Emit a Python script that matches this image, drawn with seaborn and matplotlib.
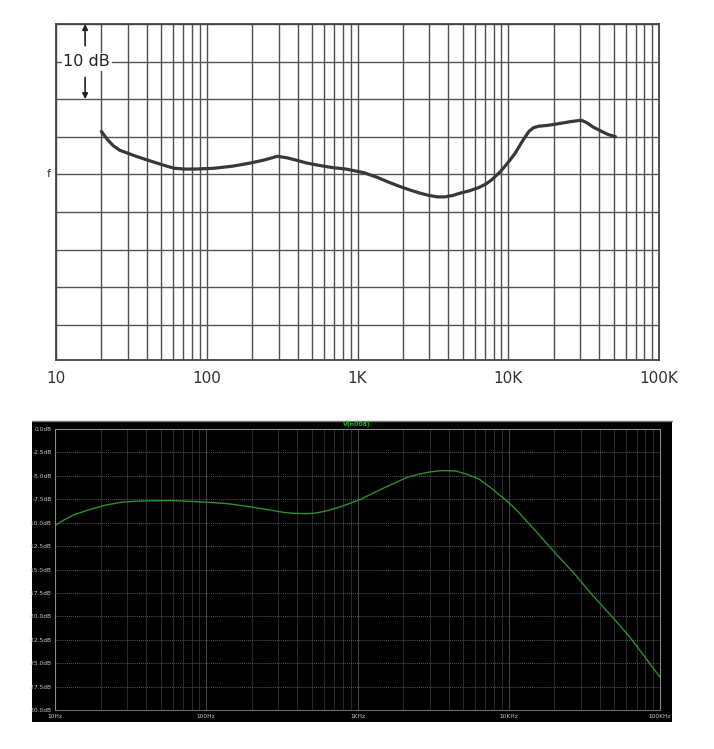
import numpy as np
import pandas as pd
import matplotlib
matplotlib.use("Agg")
import matplotlib.pyplot as plt
import seaborn as sns
from matplotlib.ticker import LogLocator, NullFormatter, FixedLocator, FixedFormatter
from matplotlib.patches import Rectangle
from matplotlib.lines import Line2D

# ---------------- data ----------------
# top: hand-drawn response (dB relative to top grid line, 5 dB per division)
top_freq = [20, 22, 24, 26.5, 30, 34, 39, 45, 52, 61, 72, 84, 111, 150, 194, 240,
            294, 340, 390, 460, 552, 680, 840, 1110, 1350, 1590, 1900, 2240, 2600,
            2960, 3400, 3800, 4300, 4800, 5500, 6300, 7100, 7800, 8900, 10000,
            11100, 12400, 13700, 14700, 15900, 18000, 21000, 25700, 30500, 33000,
            36500, 41700, 46000, 51500]
top_db = [-14.3, -15.4, -16.2, -16.8, -17.2, -17.6, -18.0, -18.4, -18.8, -19.2,
          -19.3, -19.3, -19.2, -18.9, -18.5, -18.1, -17.6, -17.8, -18.1, -18.5,
          -18.8, -19.1, -19.3, -19.8, -20.4, -21.0, -21.6, -22.1, -22.5, -22.8,
          -23.0, -23.0, -22.8, -22.5, -22.2, -21.8, -21.3, -20.7, -19.6, -18.4,
          -17.2, -15.6, -14.3, -13.8, -13.6, -13.5, -13.3, -13.0, -12.8, -13.1,
          -13.7, -14.3, -14.7, -15.0]
top_tick_vals = [10, 100, 1000, 10000, 100000]
top_tick_labels = ["10", "100", "1K", "10K", "100K"]

# bottom: simulated response V(n008)
sim_freq = [10, 11.5, 13.2, 15.5, 18.7, 22, 28, 35, 46, 60, 80, 105, 140, 175, 212,
            265, 323, 380, 440, 500, 560, 640, 740, 870, 1050, 1250, 1490, 1750,
            2100, 2500, 2970, 3300, 3600, 4000, 4500, 5200, 6300, 7500, 9600,
            11500, 13600, 16500, 20700, 27000, 36000, 48000, 63000, 80000, 100000]
sim_db = [-10.3, -9.7, -9.2, -8.8, -8.4, -8.1, -7.8, -7.7, -7.66, -7.65, -7.73,
          -7.83, -7.98, -8.2, -8.4, -8.65, -8.9, -9.0, -9.04, -9.02, -8.9, -8.7,
          -8.4, -8.0, -7.5, -6.9, -6.3, -5.8, -5.2, -4.85, -4.6, -4.5, -4.45,
          -4.45, -4.5, -4.8, -5.3, -6.2, -7.6, -8.8, -10.1, -11.6, -13.4, -15.4,
          -17.8, -20.0, -22.2, -24.4, -26.5]
sim_ytick_vals = [0, -2.5, -5, -7.5, -10, -12.5, -15, -17.5, -20, -22.5, -25, -27.5, -30]
sim_ytick_labels = ["0.0dB", "-2.5dB", "-5.0dB", "-7.5dB", "-10.0dB", "-12.5dB",
                    "-15.0dB", "-17.5dB", "-20.0dB", "-22.5dB", "-25.0dB",
                    "-27.5dB", "-30.0dB"]
sim_xtick_labels = ["10Hz", "100Hz", "1KHz", "10KHz", "100KHz"]
sim_title = "V(n008)"

top_df = pd.DataFrame({"freq": top_freq, "db": top_db})
sim_df = pd.DataFrame({"freq": sim_freq, "db": sim_db})

# ---------------- figure ----------------
sns.set_style("white")
plt.rcParams["font.family"] = ["DejaVu Sans"]
W, H = 714, 749
fig = plt.figure(figsize=(W / 100, H / 100), dpi=100)
fig.patch.set_facecolor("white")

def fx(px):
    return px / W

def fy(py):
    return 1 - py / H

# ---------- top chart ----------
ax1 = fig.add_axes([fx(56), fy(360), fx(659) - fx(56), fy(24) - fy(360)])
ax1.set_facecolor("white")
ax1.set_xscale("log")
ax1.set_xlim(10, 100000)
ax1.set_ylim(-44.7, 0)
ax1.xaxis.set_major_locator(FixedLocator(top_tick_vals))
ax1.xaxis.set_major_formatter(FixedFormatter(top_tick_labels))
ax1.xaxis.set_minor_locator(LogLocator(base=10, subs=np.arange(2, 10), numticks=20))
ax1.xaxis.set_minor_formatter(NullFormatter())
ax1.set_yticks(np.arange(0, -45, -5))
ax1.set_yticklabels([])
ax1.grid(True, which="both", axis="x", color="#505050", lw=1.0)
ax1.grid(True, which="major", axis="y", color="#555555", lw=1.0)
ax1.tick_params(axis="both", which="both", length=0)
ax1.tick_params(axis="x", which="major", pad=8, labelsize=11, labelcolor="#333333")
for s in ax1.spines.values():
    s.set_color("#444444")
    s.set_linewidth(1.3)

sns.lineplot(data=top_df, x="freq", y="db", ax=ax1, color="#383838", lw=2.3,
             legend=False)
ax1.set_xlabel("")
ax1.set_ylabel("")

# "10 dB" scale marker
ax1.text(16.0, -5, "10 dB", fontsize=11.5, color="#222222", ha="center", va="center",
         bbox=dict(facecolor="white", edgecolor="none", pad=1.0), zorder=5)
ax1.annotate("", xy=(15.6, 0), xytext=(15.6, -2.9),
             arrowprops=dict(arrowstyle="-|>", color="#222222", lw=1.2,
                             mutation_scale=8, shrinkA=0, shrinkB=0), zorder=6)
ax1.annotate("", xy=(15.6, -10), xytext=(15.6, -7.1),
             arrowprops=dict(arrowstyle="-|>", color="#222222", lw=1.2,
                             mutation_scale=8, shrinkA=0, shrinkB=0), zorder=6)
fig.text(fx(49), fy(174), "f", fontsize=8, color="#333333", ha="center", va="center")

# ---------- bottom chart ----------
bg = Rectangle((fx(32), fy(722)), fx(672) - fx(32), fy(421) - fy(722),
               transform=fig.transFigure, facecolor="black", edgecolor="none",
               zorder=-10)
fig.patches.append(bg)
fig.lines.append(Line2D([fx(32), fx(672)], [fy(421), fy(421)], transform=fig.transFigure,
                        color="#777777", lw=1.0, zorder=-9))

ax2 = fig.add_axes([fx(55), fy(710), fx(660) - fx(55), fy(429) - fy(710)])
ax2.set_zorder(5)
ax2.set_facecolor("black")
ax2.set_xscale("log")
ax2.set_xlim(10, 100000)
ax2.set_ylim(-30, 0)
ax2.xaxis.set_major_locator(FixedLocator(top_tick_vals))
ax2.xaxis.set_major_formatter(FixedFormatter(sim_xtick_labels))
ax2.xaxis.set_minor_locator(LogLocator(base=10, subs=np.arange(2, 10), numticks=20))
ax2.xaxis.set_minor_formatter(NullFormatter())
ax2.yaxis.set_major_locator(FixedLocator(sim_ytick_vals))
ax2.yaxis.set_major_formatter(FixedFormatter(sim_ytick_labels))
ax2.grid(True, which="major", axis="x", color="#444444", lw=0.7)
ax2.grid(True, which="minor", axis="x", color="#2a2a2a", lw=0.7)
ax2.grid(True, which="major", axis="y", color="#555555", lw=0.7, linestyle=(0, (1, 1)))
ax2.tick_params(axis="x", which="both", length=0, pad=3, labelsize=4.2,
                labelcolor="#c8c8c8")
ax2.tick_params(axis="y", which="major", length=2, width=0.6, color="#999999",
                pad=0.5, labelsize=4.2, labelcolor="#c8c8c8")
for side, s in ax2.spines.items():
    s.set_color("#8a8a8a")
    s.set_linewidth(0.8)
ax2.spines["bottom"].set_color("#6a6a6a")

sns.lineplot(data=sim_df, x="freq", y="db", ax=ax2, color="#2f8f2f", lw=1.0,
             legend=False)
ax2.set_xlabel("")
ax2.set_ylabel("")

fig.text(0.5, fy(424.5), sim_title, color="#00c400", fontsize=4.5, ha="center",
         va="center", fontweight="bold", zorder=6)

fig.savefig("out.png", dpi=100, facecolor="white")
